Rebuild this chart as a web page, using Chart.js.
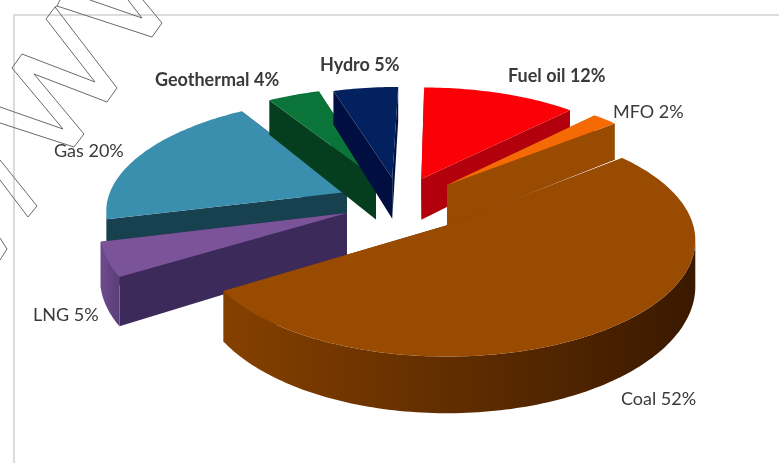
<!DOCTYPE html>
<html>
<head>
<meta charset="utf-8">
<title>Fuel mix</title>
<style>
  html, body { margin: 0; padding: 0; background: #ffffff; }
  canvas { display: block; }
</style>
<script src="https://cdn.jsdelivr.net/npm/chart.js@4"></script>
</head>
<body>
<canvas id="mixChart" width="779" height="463"></canvas>
<script>
const CATEGORIES = ['Fuel oil', 'MFO', 'Coal', 'LNG', 'Gas', 'Geothermal', 'Hydro'];
const SHARES = [12, 2, 52, 5, 20, 4, 5];

const TOP_COLORS = ['#fb0006', '#f56a05', '#994b02', '#7a5398', '#3a8eae', '#0a7439', '#03215f'];
const CUT_COLORS = ['#b2000c', '#994b02', '#7a3a00', '#3b2a5a', '#17414f', '#053e1f', '#000f3f'];
const RIM_LIGHT = ['#d00008', '#b85000', '#854000', '#6f4b90', '#1e5468', '#075a2c', '#001a55'];
const RIM_DARK = ['#a0000a', '#8a4200', '#3a1900', '#5a3d78', '#17414f', '#053e1f', '#000f3f'];

// how far each slice is pulled out of the pie, in radius units
const EXPLODE_X = [-0.11, 0, 0, -0.412, -0.422, -0.305, -0.235];
const EXPLODE_Z = [0.452, 0.393, 0.024, 0.132, 0.326, 0.455, 0.46];

// back to front
const DRAW_ORDER = [4, 5, 6, 0, 3, 1, 2];

const LABEL_X = [508, 613, 621, 33, 54, 155, 320];
const LABEL_Y = [76, 112, 399, 315, 151, 80, 65];
const LABEL_BOLD = [true, false, false, false, false, true, true];

const OUTLINE_PATHS = [
  [[60, 0], [57, 6], [152, 37], [162, 23], [143, 0]],
  [[90, 0], [142, 18], [128, 0]],
  [[57, 6], [55, 7], [46, 19], [95, 82], [22, 54], [12, 68], [63, 129], [0, 107]],
  [[55, 7], [117, 88], [107, 102], [34, 74], [84, 134], [74, 147], [0, 123]],
  [[0, 160], [37, 206], [28, 217], [0, 180]],
  [[0, 238], [7, 249], [0, 260]]
];

const CENTER_X = 447;
const CENTER_Y = 228;
const RADIUS_X = 247;
const RADIUS_Y = 115;
const PERSPECTIVE = 0.13;

function project(x, z, lowered) {
  const p = 1 / (1 + PERSPECTIVE * z);
  const drop = lowered ? 45 * Math.pow(p, 1.7) : 0;
  return {
    x: CENTER_X + RADIUS_X * x * p,
    y: CENTER_Y - RADIUS_Y * z * p + drop
  };
}

function fillPolygon(ctx, points, color) {
  ctx.beginPath();
  points.forEach((pt, i) => {
    if (i === 0) ctx.moveTo(pt.x, pt.y);
    else ctx.lineTo(pt.x, pt.y);
  });
  ctx.closePath();
  ctx.fillStyle = color;
  ctx.fill();
}

// Chart.js angles run clockwise from 3 o'clock, so cos is x and -sin is depth
function drawSlice(ctx, arc, i) {
  const ox = EXPLODE_X[i];
  const oz = EXPLODE_Z[i];
  const steps = Math.max(8, Math.ceil((arc.endAngle - arc.startAngle) / 0.02));
  const rim = [];
  for (let s = 0; s <= steps; s++) {
    const a = arc.startAngle + (arc.endAngle - arc.startAngle) * s / steps;
    rim.push({x: ox + Math.cos(a), z: oz - Math.sin(a)});
  }
  const apexTop = project(ox, oz, false);
  const apexLow = project(ox, oz, true);

  [rim[0], rim[rim.length - 1]].forEach(r => {
    fillPolygon(ctx, [apexTop, project(r.x, r.z, false), project(r.x, r.z, true), apexLow], CUT_COLORS[i]);
  });

  // only the stretch of rim that faces the viewer runs right to left on screen
  const facing = rim.filter((r, s) => {
    const next = rim[Math.min(s + 1, steps)];
    const prev = rim[Math.max(s - 1, 0)];
    return project(next.x, next.z, false).x < project(prev.x, prev.z, false).x;
  });
  if (facing.length > 1) {
    const upper = facing.map(r => project(r.x, r.z, false));
    const lower = facing.map(r => project(r.x, r.z, true)).reverse();
    const xs = upper.map(pt => pt.x);
    const shade = ctx.createLinearGradient(Math.min(...xs), 0, Math.max(...xs), 0);
    shade.addColorStop(0, RIM_LIGHT[i]);
    shade.addColorStop(1, RIM_DARK[i]);
    fillPolygon(ctx, upper.concat(lower), shade);
  }

  const top = [apexTop].concat(rim.map(r => project(r.x, r.z, false)));
  fillPolygon(ctx, top, TOP_COLORS[i]);
}

const tiltedPie = {
  id: 'tiltedPie',
  beforeDraw(chart) {
    const ctx = chart.ctx;
    ctx.save();
    ctx.fillStyle = '#dcdcdc';
    ctx.fillRect(14, 14, 765, 2);
    ctx.fillRect(13, 14, 2, 449);
    ctx.restore();
  },
  beforeDatasetsDraw(chart) {
    const ctx = chart.ctx;
    const arcs = chart.getDatasetMeta(0).data;
    ctx.save();
    DRAW_ORDER.forEach(i => drawSlice(ctx, arcs[i], i));
    ctx.restore();
    return false;
  },
  afterDraw(chart) {
    const ctx = chart.ctx;
    ctx.save();
    ctx.textBaseline = 'middle';
    ctx.fillStyle = '#3a3a3a';
    CATEGORIES.forEach((name, i) => {
      ctx.font = `${LABEL_BOLD[i] ? 'bold ' : ''}18px Lato`;
      ctx.fillText(`${name} ${SHARES[i]}%`, LABEL_X[i], LABEL_Y[i]);
    });
    ctx.strokeStyle = '#6a6a6a';
    ctx.lineWidth = 1;
    OUTLINE_PATHS.forEach(path => {
      ctx.beginPath();
      path.forEach(([x, y], k) => {
        if (k === 0) ctx.moveTo(x, y);
        else ctx.lineTo(x, y);
      });
      ctx.stroke();
    });
    ctx.restore();
  }
};

new Chart(document.getElementById('mixChart'), {
  type: 'pie',
  data: {
    labels: CATEGORIES,
    datasets: [{data: SHARES, backgroundColor: TOP_COLORS, borderWidth: 0}]
  },
  options: {
    responsive: false,
    animation: false,
    rotation: 0,
    events: [],
    plugins: {
      legend: {display: false},
      tooltip: {enabled: false}
    }
  },
  plugins: [tiltedPie]
});
</script>
</body>
</html>
